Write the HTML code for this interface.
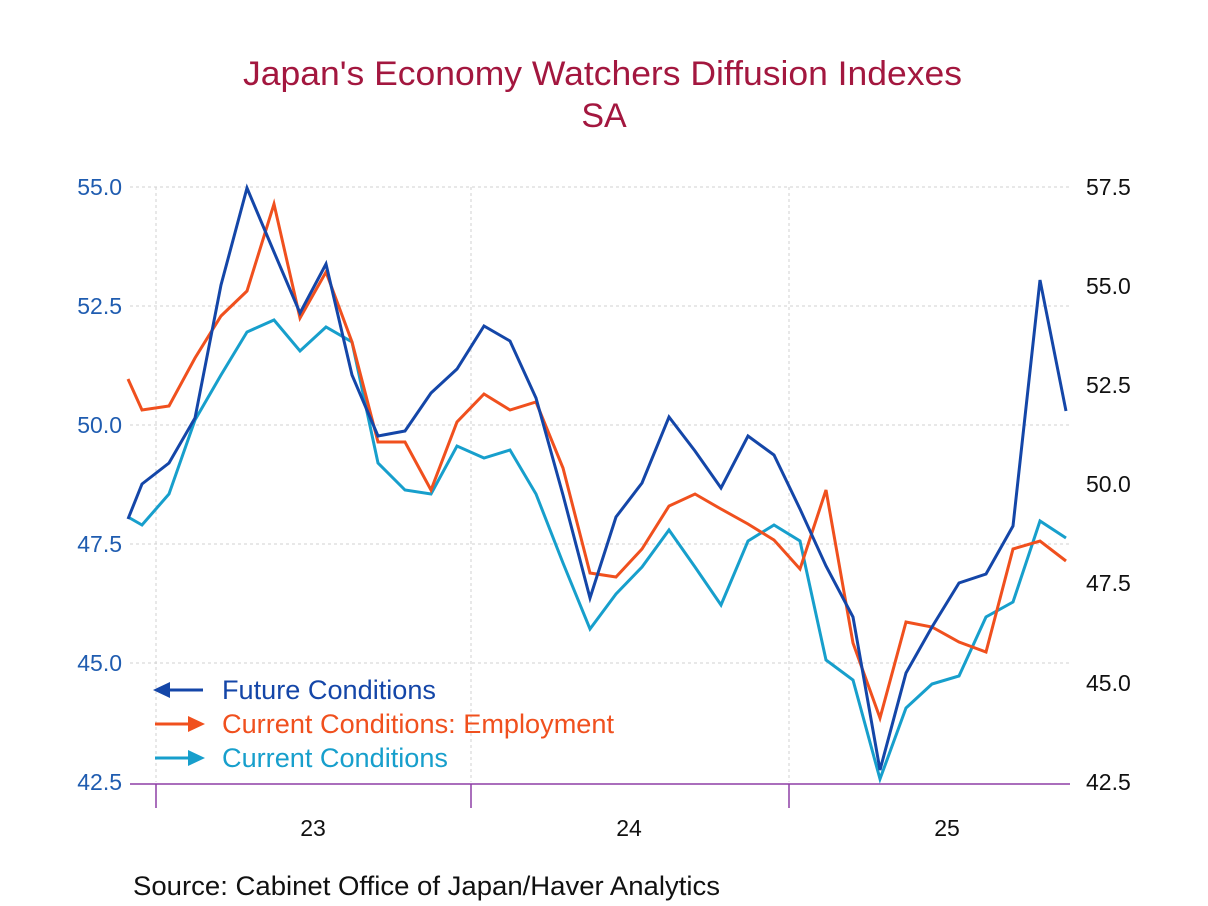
<!DOCTYPE html>
<html><head><meta charset="utf-8"><style>
html,body{margin:0;padding:0;background:#fff;}
svg{display:block;font-family:"Liberation Sans",Arial,sans-serif;}
</style></head><body>
<svg width="1208" height="906" viewBox="0 0 1208 906" xmlns="http://www.w3.org/2000/svg">
<rect width="1208" height="906" fill="#fff"/>
<text x="243" y="85" font-size="34" fill="#a3173f" textLength="719" lengthAdjust="spacingAndGlyphs">Japan's Economy Watchers Diffusion Indexes</text>
<text x="604" y="127" text-anchor="middle" font-size="34" fill="#a3173f">SA</text>
<g stroke="#d0d0d0" stroke-width="1" stroke-dasharray="3,3" fill="none">
<line x1="130" y1="187" x2="1070" y2="187"/>
<line x1="130" y1="306" x2="1070" y2="306"/>
<line x1="130" y1="425" x2="1070" y2="425"/>
<line x1="130" y1="544" x2="1070" y2="544"/>
<line x1="130" y1="663" x2="1070" y2="663"/>
<line x1="156" y1="187" x2="156" y2="782"/>
<line x1="471" y1="187" x2="471" y2="782"/>
<line x1="789" y1="187" x2="789" y2="782"/>
</g>
<g font-size="23" fill="#1f5cb0" text-anchor="end">
<text x="122" y="195">55.0</text><text x="122" y="314">52.5</text><text x="122" y="433">50.0</text><text x="122" y="552">47.5</text><text x="122" y="671">45.0</text><text x="122" y="790">42.5</text>
</g>
<g font-size="23" fill="#111" text-anchor="start">
<text x="1086" y="195">57.5</text><text x="1086" y="294">55.0</text><text x="1086" y="393">52.5</text><text x="1086" y="492">50.0</text><text x="1086" y="591">47.5</text><text x="1086" y="691">45.0</text><text x="1086" y="790">42.5</text>
</g>
<g stroke="#8e3fa6" stroke-width="1.5">
<line x1="130" y1="784" x2="1070" y2="784"/>
<line x1="156" y1="784" x2="156" y2="808"/>
<line x1="471" y1="784" x2="471" y2="808"/>
<line x1="789" y1="784" x2="789" y2="808"/>
</g>
<g font-size="23" fill="#111" text-anchor="middle">
<text x="313" y="836">23</text><text x="629" y="836">24</text><text x="947" y="836">25</text>
</g>
<text x="133" y="895" font-size="27" fill="#111" textLength="587" lengthAdjust="spacingAndGlyphs">Source:  Cabinet Office of Japan/Haver Analytics</text>
<g fill="none" stroke-width="3" stroke-linejoin="miter">
<polyline stroke="#179fcc" points="128,517 142,525 169,494 195,420 221,375 247,332 274,320 300,351 326,327 352,342 378,463 405,490 431,494 457,446 484,458 510,450 536,494 563,563 590,629 616,594 642,567 669,530 695,567 721,605 748,541 774,525 800,541 826,660 853,680 880,779 906,708 932,684 959,676 986,617 1013,602 1040,521 1066,538"/>
<polyline stroke="#f0501e" points="128,379 142,410 169,406 195,358 221,316 247,291 274,204 300,318 326,272 352,342 378,442 405,442 431,490 457,422 484,394 510,410 536,402 563,468 590,573 616,577 642,549 669,506 695,494 721,509 748,524 774,540 800,569 826,490 853,643 880,718 906,622 932,627 959,642 986,652 1013,549 1040,541 1066,561"/>
<polyline stroke="#1446a8" points="128,519 142,484 169,463 195,418 221,285 247,188 274,252 300,313 326,264 352,375 378,436 405,431 431,393 457,369 484,326 510,341 536,398 563,495 590,598 616,517 642,483 669,417 695,451 721,488 748,436 774,455 800,509 826,566 853,617 880,770 906,673 932,627 959,583 986,574 1013,526 1040,280 1066,411"/>
</g>
<g stroke-width="3">
<line x1="165" y1="690" x2="203" y2="690" stroke="#1446a8"/>
<polygon points="153,690 170,682 170,698" fill="#1446a8"/>
<line x1="155" y1="724" x2="192" y2="724" stroke="#f0501e"/>
<polygon points="205,724 188,716 188,732" fill="#f0501e"/>
<line x1="155" y1="758" x2="192" y2="758" stroke="#179fcc"/>
<polygon points="205,758 188,750 188,766" fill="#179fcc"/>
</g>
<g font-size="27">
<text x="222" y="699" fill="#1446a8" textLength="214" lengthAdjust="spacingAndGlyphs">Future Conditions</text>
<text x="222" y="733" fill="#f0501e" textLength="392" lengthAdjust="spacingAndGlyphs">Current Conditions: Employment</text>
<text x="222" y="767" fill="#179fcc" textLength="226" lengthAdjust="spacingAndGlyphs">Current Conditions</text>
</g>
</svg>
</body></html>
